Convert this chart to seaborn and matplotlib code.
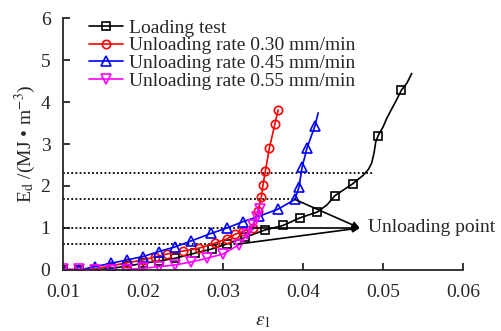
import matplotlib
matplotlib.use("Agg")
import matplotlib.pyplot as plt
import seaborn as sns
import numpy as np

# ---- data ----
load_x = [0.010, 0.012, 0.014, 0.016, 0.018, 0.020, 0.022, 0.024, 0.0265, 0.0286, 0.0305,
          0.0328, 0.0352, 0.0375, 0.0396, 0.0418, 0.0430, 0.0440, 0.0462, 0.0475, 0.0482,
          0.0486, 0.0489, 0.0491, 0.0494, 0.0500, 0.0505, 0.0510, 0.0517, 0.0523, 0.0530, 0.0536]
load_y = [0.00, 0.00, 0.00, 0.04, 0.09, 0.16, 0.21, 0.28, 0.40, 0.50, 0.62,
          0.78, 0.95, 1.06, 1.24, 1.38, 1.55, 1.77, 2.05, 2.25, 2.40,
          2.55, 2.80, 3.05, 3.20, 3.40, 3.62, 3.80, 4.05, 4.28, 4.45, 4.68]
load_marks = [0, 1, 2, 3, 4, 5, 6, 7, 8, 9, 10, 11, 12, 13, 14, 15, 17, 18, 24, 29]

r30_x = [0.010, 0.012, 0.014, 0.016, 0.018, 0.020, 0.0215, 0.023, 0.025, 0.027, 0.029,
         0.0305, 0.0315, 0.0325, 0.0337, 0.0344, 0.0348, 0.0350, 0.0353, 0.0358, 0.0365, 0.0369]
r30_y = [0.00, 0.00, 0.03, 0.10, 0.17, 0.24, 0.31, 0.38, 0.45, 0.52, 0.64,
         0.74, 0.85, 0.92, 1.00, 1.40, 1.74, 2.02, 2.36, 2.90, 3.48, 3.81]

r45_x = [0.010, 0.012, 0.014, 0.016, 0.018, 0.020, 0.022, 0.024, 0.026, 0.0285, 0.0305,
         0.0325, 0.0345, 0.0369, 0.0390, 0.0395, 0.0399, 0.0405, 0.0415, 0.0419]
r45_y = [0.00, 0.00, 0.08, 0.16, 0.24, 0.32, 0.44, 0.55, 0.69, 0.87, 1.00,
         1.15, 1.28, 1.45, 1.68, 1.97, 2.45, 2.90, 3.43, 3.74]

r55_x = [0.010, 0.012, 0.014, 0.016, 0.018, 0.020, 0.022, 0.024, 0.026, 0.028, 0.030,
         0.032, 0.0330, 0.0337, 0.0342, 0.0346]
r55_y = [0.02, 0.02, 0.00, 0.00, 0.01, 0.04, 0.08, 0.12, 0.19, 0.28, 0.38,
         0.60, 0.85, 1.07, 1.25, 1.45]

labels = ["Loading test", "Unloading rate 0.30 mm/min",
          "Unloading rate 0.45 mm/min", "Unloading rate 0.55 mm/min"]

ref_levels = [2.30, 1.69, 1.00, 0.62]
ref_ends = [0.0488, 0.0390, 0.0337, 0.0320]

unload_x = [0.0390, 0.0337, 0.0320]
unload_y = [1.68, 1.00, 0.62]
arrow_tip = (0.0471, 1.00)
annot_text = "Unloading point"

xticks = [0.01, 0.02, 0.03, 0.04, 0.05, 0.06]
yticks = [0, 1, 2, 3, 4, 5, 6]

# ---- style ----
sns.set_style("ticks")
plt.rcParams["font.family"] = ["Liberation Serif", "DejaVu Serif"]
plt.rcParams["mathtext.fontset"] = "stix"
FS = 14

fig = plt.figure(figsize=(5.01, 3.31), dpi=100)
ax = fig.add_axes([0.1257, 0.1843, 0.924 - 0.1257, 0.9456 - 0.1843])

# reference dotted lines
for lv, xe in zip(ref_levels, ref_ends):
    ax.hlines(lv, xticks[0], xe, colors="black", linestyles=(0, (1, 1.3)), lw=1.3, zorder=1)

def draw(x, y, color, marker, ms, label, markevery=None):
    kw = dict(estimator=None, sort=False, ax=ax, lw=1.2, color=color, marker=marker,
              markersize=ms, markerfacecolor="none", markeredgecolor=color,
              markeredgewidth=1.2, label=label)
    if markevery is not None:
        kw["markevery"] = markevery
    sns.lineplot(x=x, y=y, **kw)

draw(load_x, load_y, "black", "s", 5.5, labels[0], load_marks)
draw(r30_x, r30_y, "#ff0000", "o", 6, labels[1])
draw(r45_x, r45_y, "#0000ff", "^", 6.5, labels[2], list(range(len(r45_x) - 1)))
draw(r55_x, r55_y, "#ff00ff", "v", 6.5, labels[3])

# arrows
for ux, uy in zip(unload_x, unload_y):
    ax.annotate("", xy=arrow_tip, xytext=(ux, uy),
                arrowprops=dict(arrowstyle="-|>", color="black", lw=1.2,
                                mutation_scale=10, shrinkA=0, shrinkB=0), zorder=5)
ax.text(0.0481, 1.00, annot_text, fontsize=FS, va="center", ha="left")

ax.set_xlim(0.01, 0.06)
ax.set_ylim(0, 6)
ax.set_xticks(xticks)
ax.set_xticklabels([f"{t:.2f}" for t in xticks])
ax.set_yticks(yticks)
ax.set_yticklabels([str(t) for t in yticks])
ax.tick_params(direction="in", length=5, width=1.3, labelsize=FS)
ax.tick_params(axis="x", pad=10)
ax.tick_params(axis="y", pad=9)
for s in ["top", "right"]:
    ax.spines[s].set_visible(False)
for s in ["left", "bottom"]:
    ax.spines[s].set_linewidth(1.3)
    ax.spines[s].set_clip_on(False)

ax.set_xlabel(r"$\varepsilon_1$", fontsize=FS, labelpad=9)
ax.set_ylabel(r"E$_\mathrm{d}$ /(MJ • m$^{-3}$)", fontsize=FS, labelpad=2)

leg = ax.legend(loc="upper left", bbox_to_anchor=(0.065, 0.995), frameon=False,
                fontsize=FS, handlelength=1.75, handletextpad=0.3, labelspacing=0.0,
                borderpad=0.0, borderaxespad=0.0)

fig.savefig("out.png", dpi=100)
